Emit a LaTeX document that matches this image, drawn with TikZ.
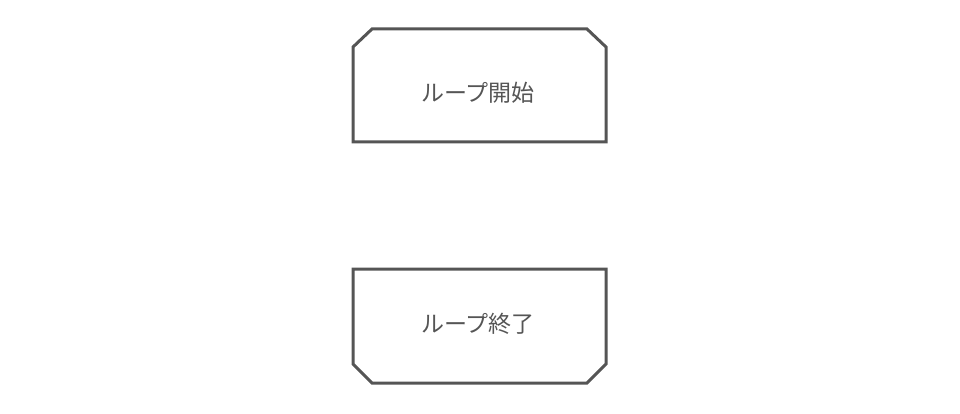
\documentclass[tikz,border=0pt]{standalone}
\usepackage{fontspec}
\newfontfamily\cjk{Noto Sans CJK JP}
\definecolor{linegray}{HTML}{555555}

\begin{document}
\begin{tikzpicture}[x=1pt,y=-1pt,
  loopline/.style={draw=linegray, line width=3pt, line join=miter},
  looptext/.style={inner sep=0pt, text=linegray, font=\cjk\fontsize{23}{27}\selectfont}]
\useasboundingbox (0,0) rectangle (960,414);

% Loop start
\draw[loopline] (353,142) -- (353,47) -- (372,29) -- (587,29) -- (606,47) -- (606,142) -- cycle;
\node[looptext] (loopstart) at (478,93) {ループ開始};

% Loop end
\draw[loopline] (353,269) -- (606,269) -- (606,364) -- (587,383) -- (372,383) -- (353,364) -- cycle;
\node[looptext] (loopend) at (478,324) {ループ終了};

\end{tikzpicture}
\end{document}
